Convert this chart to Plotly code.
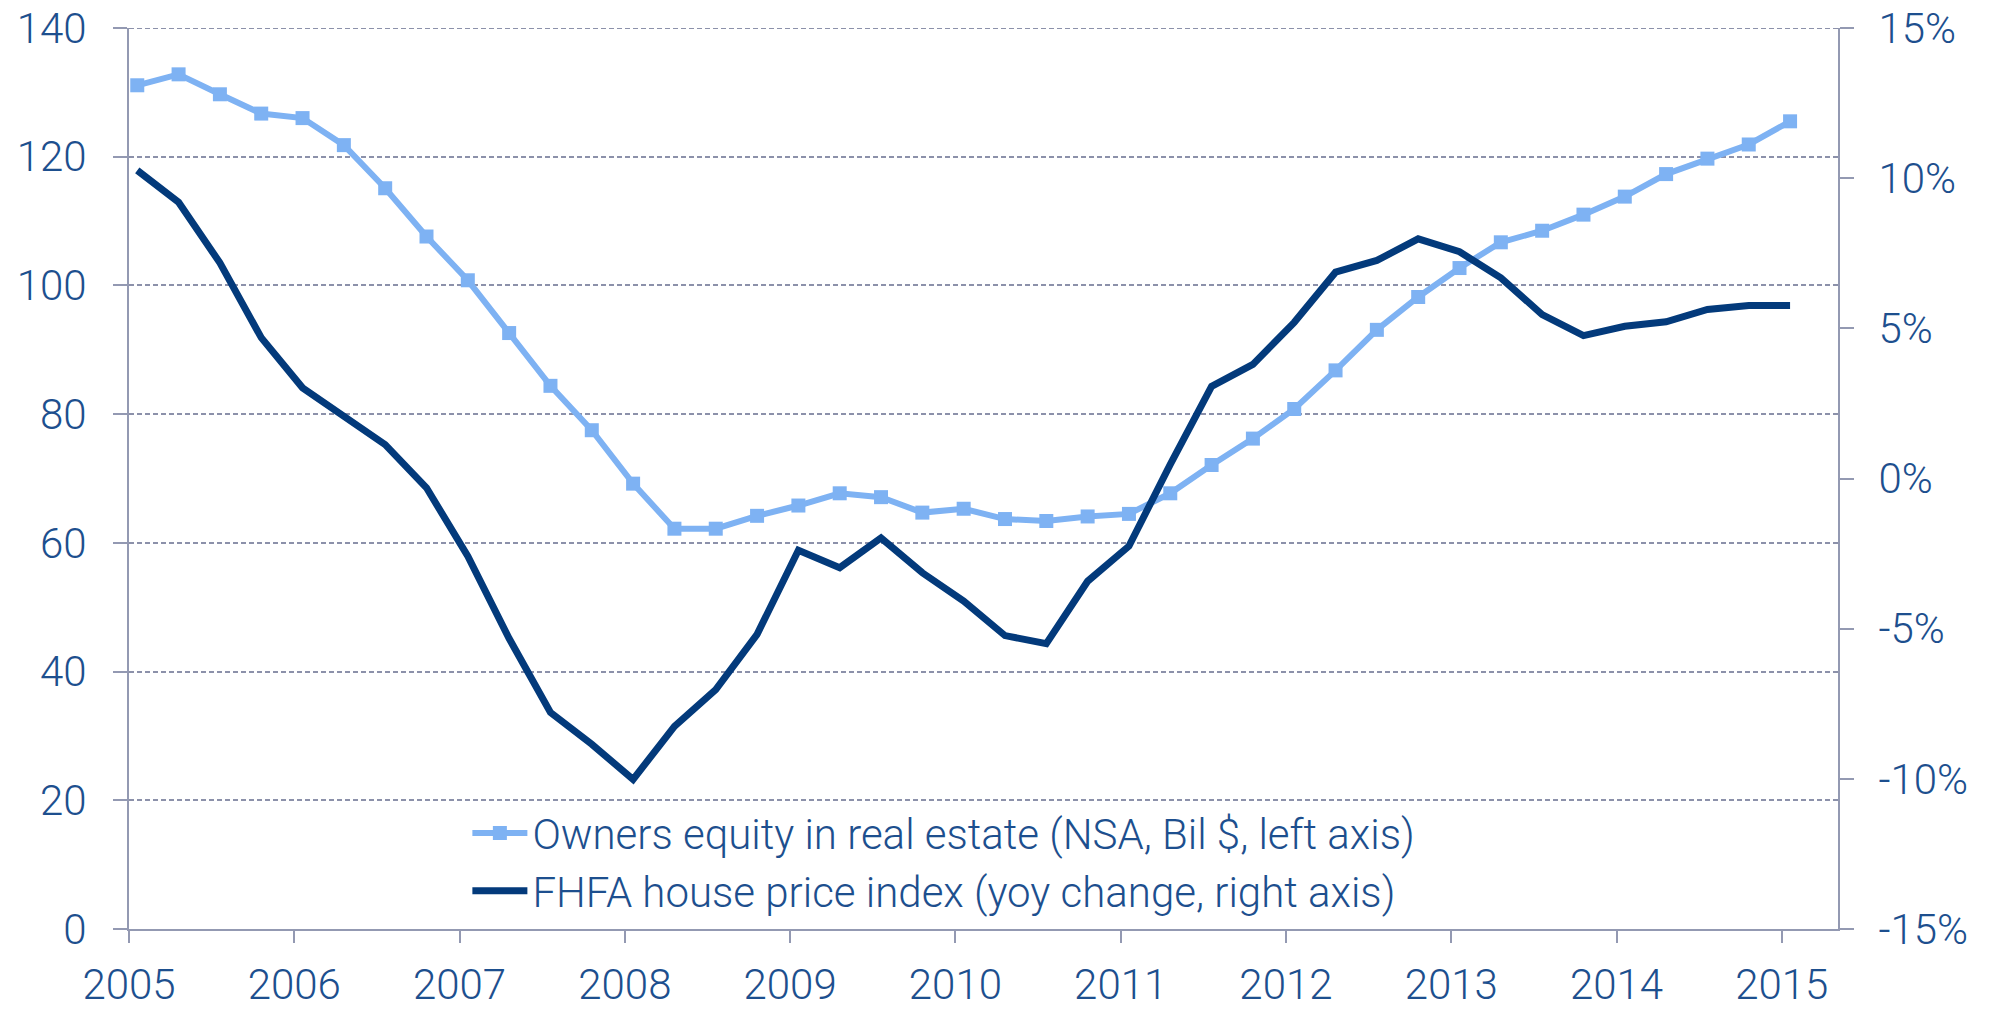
import plotly.graph_objects as go

# Quarterly observations, 2005Q1 .. 2015Q1 (x positions in fractional years)
quarter_x = [2005.05 + 0.25 * i for i in range(41)]

owners_equity = [131.1, 132.8, 129.7, 126.7, 126.0, 121.8, 115.1, 107.6, 100.8, 92.6,
                 84.4, 77.5, 69.2, 62.2, 62.2, 64.2, 65.8, 67.7, 67.1, 64.7,
                 65.3, 63.7, 63.4, 64.1, 64.5, 67.7, 72.1, 76.2, 80.8, 86.8,
                 93.1, 98.2, 102.7, 106.7, 108.5, 111.0, 113.8, 117.3, 119.7, 121.9,
                 125.5]

fhfa_yoy = [10.26, 9.2, 7.18, 4.69, 3.02, 2.07, 1.13, -0.31, -2.59, -5.33,
            -7.79, -8.85, -10.02, -8.25, -7.03, -5.19, -2.39, -2.97, -1.98, -3.14,
            -4.08, -5.23, -5.5, -3.42, -2.25, 0.47, 3.07, 3.8, 5.2, 6.87,
            7.26, 7.98, 7.55, 6.68, 5.46, 4.76, 5.07, 5.22, 5.63, 5.76,
            5.76]

year_ticks = [2005, 2006, 2007, 2008, 2009, 2010, 2011, 2012, 2013, 2014, 2015]
year_labels = [str(y) for y in year_ticks]
left_ticks = [0, 20, 40, 60, 80, 100, 120, 140]
right_ticks = [-15, -10, -5, 0, 5, 10, 15]
right_labels = [f"{v}%" for v in right_ticks]

name_equity = "Owners equity in real estate (NSA, Bil $, left axis)"
name_fhfa = "FHFA house price index (yoy change, right axis)"

LIGHT = "#7EB2F3"
DARK = "#033A7B"
TEXT = "#1D4F8E"
AXIS = "#9399B2"
GRID = "#8C91AA"
FONT = "Roboto"

fig = go.Figure()
fig.add_trace(go.Scatter(
    x=quarter_x, y=owners_equity, name=name_equity, mode="lines+markers",
    line=dict(color=LIGHT, width=6),
    marker=dict(symbol="square", size=14, color=LIGHT),
    yaxis="y", cliponaxis=False,
))
fig.add_trace(go.Scatter(
    x=quarter_x, y=fhfa_yoy, name=name_fhfa, mode="lines",
    line=dict(color=DARK, width=7),
    yaxis="y2",
))

tickfont = dict(family=FONT, size=42, color=TEXT, weight=300)

fig.update_layout(
    width=1996, height=1011,
    margin=dict(l=129, r=158, t=28, b=82),
    paper_bgcolor="white", plot_bgcolor="white",
    font=dict(family=FONT, color=TEXT, weight=300),
    showlegend=True,
    legend=dict(
        x=0.198, y=0.144, xanchor="left", yanchor="top",
        bgcolor="rgba(0,0,0,0)",
        font=dict(family=FONT, size=42, color=TEXT, weight=300),
        tracegroupgap=0, itemwidth=55,
    ),
    xaxis=dict(
        range=[2005, 2015.34], automargin=False,
        tickmode="array", tickvals=year_ticks, ticktext=year_labels,
        ticks="outside", ticklen=12, tickwidth=2, tickcolor=AXIS,
        showline=True, linecolor=AXIS, linewidth=2,
        showgrid=False, zeroline=False,
        tickfont=tickfont, ticklabelstandoff=6,
    ),
    yaxis=dict(
        range=[0, 140], tickmode="array", tickvals=left_ticks, automargin=False,
        ticks="outside", ticklen=14, tickwidth=2, tickcolor=AXIS,
        showline=True, linecolor=AXIS, linewidth=2,
        showgrid=True, gridcolor=GRID, gridwidth=1.8, griddash="5px,3px",
        zeroline=False,
        tickfont=tickfont, ticklabelstandoff=18,
    ),
    yaxis2=dict(
        range=[-15, 15], tickmode="array", tickvals=right_ticks, ticktext=right_labels,
        overlaying="y", side="right", automargin=False,
        ticks="outside", ticklen=14, tickwidth=2, tickcolor=AXIS,
        showline=True, linecolor=AXIS, linewidth=2,
        showgrid=False, zeroline=False,
        tickfont=tickfont, ticklabelstandoff=16,
    ),
)

# top boundary gridline (plotly omits the grid line at the range edge)
fig.add_shape(type="line", xref="paper", yref="y", x0=0, x1=1, y0=140, y1=140,
              line=dict(color=GRID, width=1.8, dash="5px,3px"), layer="below")

fig.write_html(
    "out.html",
    config={"displayModeBar": False},
    post_script="document.body.style.margin='0';document.body.style.overflow='hidden';",
)
